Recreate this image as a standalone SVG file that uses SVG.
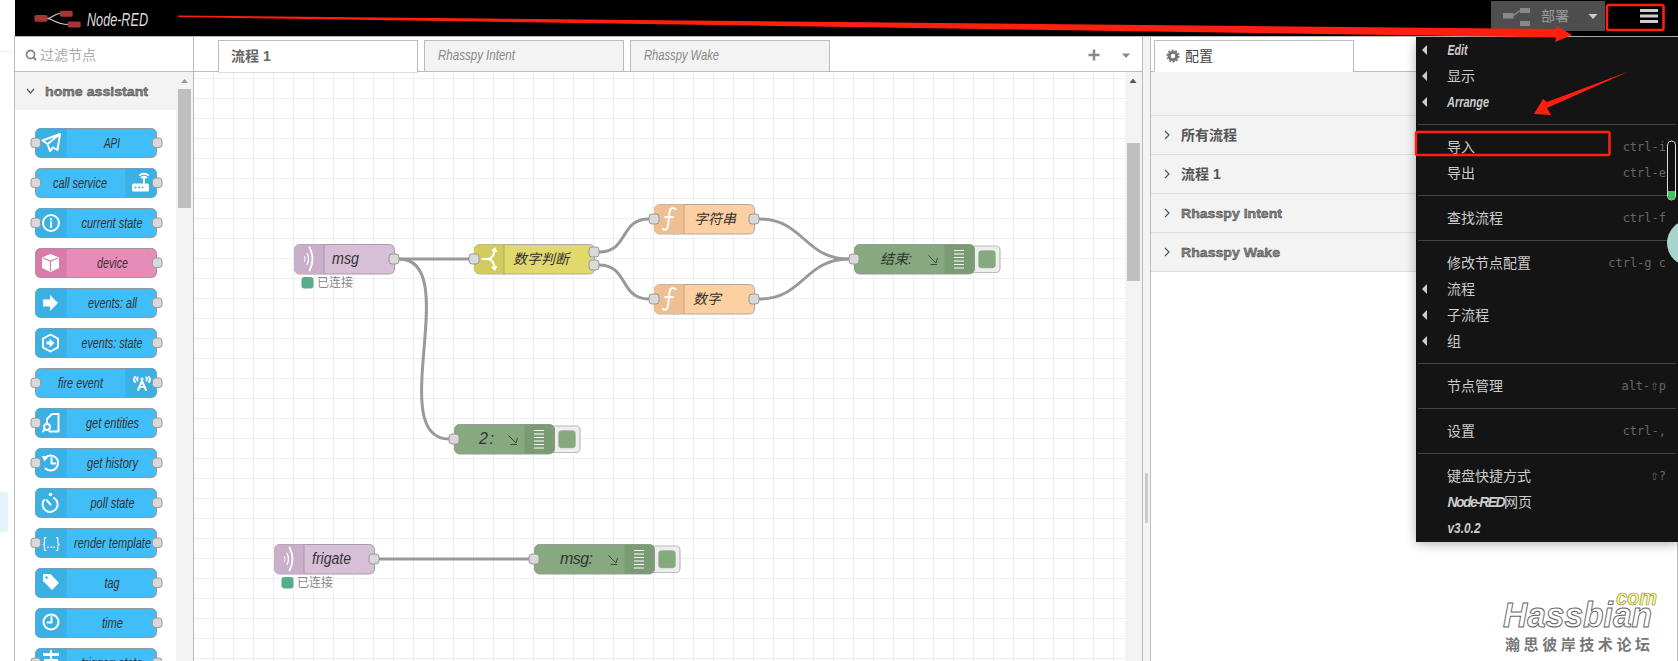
<svg xmlns="http://www.w3.org/2000/svg" width="1678" height="661" viewBox="0 0 1678 661">
<style>
text{font-family:"Liberation Sans","Noto Sans CJK SC",sans-serif}
.pn{font-size:15px;font-style:italic;fill:#333;text-anchor:middle}
.wn{font-size:16px;font-style:italic;fill:#333}
.wc{font-size:14px;font-style:italic;fill:#333}
.st{font-size:12px;fill:#888}
.blue{fill:#41bdf7;stroke:#999;stroke-width:1}
.bi{fill:#3ab0e5}
.port{fill:#d9d9d9;stroke:#999;stroke-width:1}
.ic{fill:none;stroke:#fff;stroke-width:2;stroke-linecap:round;stroke-linejoin:round}
.icf{fill:#fff}
.wire{fill:none;stroke:#999;stroke-width:3}
.grid{stroke:#eee;stroke-width:1}
.sep{stroke:#444;stroke-width:1}
.mi{font-size:14px;fill:#ccc}
.me{font-size:15px;font-style:italic;font-weight:bold;fill:#ccc}
.ms{font-family:"DejaVu Sans Mono","Liberation Mono",monospace;font-size:12px;fill:#666;text-anchor:end}
.mt{fill:#ccc}
.red{fill:none;stroke:#ff1f10;stroke-width:2.5}
.tabt{font-size:15px;font-style:italic;fill:#888}
.pt{font-size:14px;font-weight:bold;fill:#555}
.pe{font-size:13px;font-weight:bold;fill:#888;stroke:#333;stroke-width:.4}
.chev{fill:none;stroke:#555;stroke-width:1.2}
.dbar{stroke:#fff;stroke-width:1.2}
.flt{fill:none;stroke:#444;stroke-width:1}
.btn{fill:#eee;stroke:#bbb;stroke-width:1.2}
.btni{fill:#87a980;stroke:#9fb89a;stroke-width:.5}
.dbg{fill:#87a980;stroke:#999}
.dbi{fill:#7a9b73}
.inj{fill:#d8bfd8;stroke:#a99aa9;stroke-width:1}
.inji{fill:#c9afc9}
.fn{fill:#fdd0a2;stroke:#a9a9a9;stroke-width:1}
.fni{fill:#eebf92}
</style>
<defs>
<path id="pil" d="M66.500 .5H40.500a5 5 0 0 0-5 5v19a5 5 0 0 0 5 5H66.500z"/>
<path id="pir" d="M125.500 .5H151.500a5 5 0 0 1 5 5v19a5 5 0 0 1-5 5H125.500z"/>
<rect id="ppl" x="31" y="10" width="9.500" height="9.500" rx="3" class="port"/>
<rect id="ppr" x="152.500" y="10" width="9.500" height="9.500" rx="3" class="port"/>
<rect id="wp" x="-5" y="-5" width="10" height="10" rx="3" class="port"/>
<path id="wic" d="M30 .5H5a5 5 0 0 0-5 5v19a5 5 0 0 0 5 5H30z"/>
<g id="wave" class="ic"><path stroke-width="1" d="M10.500 12.500q1.500 2.500 0 5"/><path stroke-width="1.300" d="M13 9.500q3 5.500 0 11"/><path stroke-width="1.800" d="M15.500 3.500q6 11.500 0 23"/></g>
<path id="fsym" class="ic" d="M21.500 5c-3.500-2-5.500-.5-6 3l-1.500 14c-.5 3.500-3 4.500-5 3M11 13h8"/>
<g id="flt" class="flt"><path d="M0 .5L7.500 8M2 9.500H8.500M9 3L7.500 8"/></g>
<g id="bars" class="dbar"><path d="M10 6.500h10M10 10h10M10 13.500h10M10 17h10M10 20.500h10M10 24h10"/></g>
<path id="marr" d="M0 0L5-5V5z" class="mt"/>
<filter id="sh" x="-10%" y="-10%" width="120%" height="120%"><feGaussianBlur stdDeviation="6"/></filter>
</defs>

<rect width="1678" height="661" fill="#fff"/>
<path d="M0 51.500H14" stroke="#eee"/>
<rect x="-6" y="492" width="14" height="40" rx="3" fill="#e3f4fd"/>

<g id="workspace">
<rect x="194" y="72" width="949" height="589" fill="#fff"/>
<path class="grid" d="M213.500 72V661M233.500 72V661M253.500 72V661M273.500 72V661M293.500 72V661M313.500 72V661M333.500 72V661M353.500 72V661M373.500 72V661M393.500 72V661M413.500 72V661M433.500 72V661M453.500 72V661M473.500 72V661M493.500 72V661M513.500 72V661M533.500 72V661M553.500 72V661M573.500 72V661M593.500 72V661M613.500 72V661M633.500 72V661M653.500 72V661M673.500 72V661M693.500 72V661M713.500 72V661M733.500 72V661M753.500 72V661M773.500 72V661M793.500 72V661M813.500 72V661M833.500 72V661M853.500 72V661M873.500 72V661M893.500 72V661M913.500 72V661M933.500 72V661M953.500 72V661M973.500 72V661M993.500 72V661M1013.500 72V661M1033.500 72V661M1053.500 72V661M1073.500 72V661M1093.500 72V661M1113.500 72V661"/>
<path class="grid" d="M194 78.500H1125M194 98.500H1125M194 118.500H1125M194 138.500H1125M194 158.500H1125M194 178.500H1125M194 198.500H1125M194 218.500H1125M194 238.500H1125M194 258.500H1125M194 278.500H1125M194 298.500H1125M194 318.500H1125M194 338.500H1125M194 358.500H1125M194 378.500H1125M194 398.500H1125M194 418.500H1125M194 438.500H1125M194 458.500H1125M194 478.500H1125M194 498.500H1125M194 518.500H1125M194 538.500H1125M194 558.500H1125M194 578.500H1125M194 598.500H1125M194 618.500H1125M194 638.500H1125M194 658.500H1125"/>
<rect x="1125" y="72" width="18" height="589" fill="#f3f3f3"/>
<rect x="1127" y="143" width="13" height="138" fill="#bfbfbf"/>
<path d="M1133 78.500l3.500 4.500h-7z" fill="#555"/>
</g>

<g id="palette">
<rect x="15" y="37" width="178" height="34" fill="#fff"/>
<rect x="15" y="72" width="161" height="38" fill="#f3f3f3"/>
<rect x="176" y="72" width="17" height="589" fill="#f3f3f3"/>
<rect x="178" y="89" width="13" height="119" fill="#bfbfbf"/>
<path d="M184.500 79l3.500 4h-7z" fill="#999"/>
<path d="M14.500 36V661M193.500 36V661" stroke="#bbb" stroke-width="1" fill="none"/>
<path d="M15 71.500H1142" stroke="#bbb"/>
<circle cx="30.500" cy="54.500" r="4" fill="none" stroke="#888" stroke-width="1.800"/><path d="M33.500 57.500L36 60" stroke="#888" stroke-width="2"/>
<text x="40" y="60" font-size="14" fill="#aaa">过滤节点</text>
<path d="M27 89l3.500 4 3.500-4" class="chev"/>
<text x="45" y="96" class="pe" textLength="103" lengthAdjust="spacingAndGlyphs">home assistant</text>
</g>

<g id="p-api" transform="translate(0,128)"><rect class="blue" x="35.500" y=".5" width="121" height="29" rx="5"/><use href="#pil" class="bi"/><path class="ic" d="M60 6L42.500 12.500L47.500 16L50 23L53 19.500L57.500 22zM47.500 16L60 6"/><use href="#ppl"/><use href="#ppr"/><text class="pn" x="112" y="19.500" textLength="16" lengthAdjust="spacingAndGlyphs">API</text></g>
<g id="p-call-service" transform="translate(0,168)"><rect class="blue" x="35.500" y=".5" width="121" height="29" rx="5"/><use href="#pir" class="bi"/><rect class="icf" x="132" y="15.500" width="17" height="8" rx="1.500"/><circle cx="135.500" cy="19.500" r="1" fill="#3ab0e5"/><circle cx="139" cy="19.500" r="1" fill="#3ab0e5"/><circle cx="142.500" cy="19.500" r="1" fill="#3ab0e5"/><path class="ic" stroke-width="1.200" d="M144 15V10.500M141.500 9.500q2.500-1.500 5 0M140 7q4-2.500 8 0"/><use href="#ppl"/><use href="#ppr"/><text class="pn" x="80" y="19.500" textLength="54" lengthAdjust="spacingAndGlyphs">call service</text></g>
<g id="p-current-state" transform="translate(0,208)"><rect class="blue" x="35.500" y=".5" width="121" height="29" rx="5"/><use href="#pil" class="bi"/><circle class="ic" cx="51" cy="15" r="8"/><path class="ic" stroke-width="1.600" d="M51 14v5M51 11v.5"/><use href="#ppl"/><use href="#ppr"/><text class="pn" x="112" y="19.500" textLength="61" lengthAdjust="spacingAndGlyphs">current state</text></g>
<g id="p-device" transform="translate(0,248)"><rect x="35.500" y=".5" width="121" height="29" rx="5" fill="#e78bb8" stroke="#999"/><use href="#pil" fill="#d87bab"/><path class="icf" d="M50.500 6l8.500 3.500v10.500l-8.500 4-8.500-4v-10.500z"/><path d="M43 10l7.500 3 7.500-3M50.500 13v10" stroke="#d87bab" stroke-width="1.200" fill="none"/><use href="#ppr"/><text class="pn" x="112.500" y="19.500" textLength="31" lengthAdjust="spacingAndGlyphs">device</text></g>
<g id="p-events-all" transform="translate(0,288)"><rect class="blue" x="35.500" y=".5" width="121" height="29" rx="5"/><use href="#pil" class="bi"/><path class="icf" d="M43 11.500h7v-4.500l8 8-8 8v-4.500h-7z"/><use href="#ppr"/><text class="pn" x="112.500" y="19.500" textLength="49" lengthAdjust="spacingAndGlyphs">events: all</text></g>
<g id="p-events-state" transform="translate(0,328)"><rect class="blue" x="35.500" y=".5" width="121" height="29" rx="5"/><use href="#pil" class="bi"/><path class="ic" d="M50.500 6.500l7.500 4.200v8.600l-7.500 4.200-7.500-4.200v-8.600z"/><path class="icf" d="M46.500 13.500h3v-3l5 4.500-5 4.500v-3h-3z"/><use href="#ppr"/><text class="pn" x="112" y="19.500" textLength="61" lengthAdjust="spacingAndGlyphs">events: state</text></g>
<g id="p-fire-event" transform="translate(0,368)"><rect class="blue" x="35.500" y=".5" width="121" height="29" rx="5"/><use href="#pir" class="bi"/><path class="ic" stroke-width="1.200" d="M135 9q-2 2.500 0 5M149 9q2 2.500 0 5M137.500 9.500q-1 2 0 3M146.500 9.500q1 2 0 3M138 22l4-9 4 9M139.500 19h5"/><circle class="icf" cx="142" cy="11" r="1.500"/><use href="#ppl"/><use href="#ppr"/><text class="pn" x="80.500" y="19.500" textLength="45" lengthAdjust="spacingAndGlyphs">fire event</text></g>
<g id="p-get-entities" transform="translate(0,408)"><rect class="blue" x="35.500" y=".5" width="121" height="29" rx="5"/><use href="#pil" class="bi"/><path class="ic" stroke-width="1.600" d="M47 11l5-5h6.500v17.500h-9M47 11v4"/><circle class="ic" stroke-width="1.500" cx="47" cy="19" r="3"/><path class="ic" stroke-width="1.500" d="M45 21l-2 2.500"/><use href="#ppl"/><use href="#ppr"/><text class="pn" x="112.500" y="19.500" textLength="53" lengthAdjust="spacingAndGlyphs">get entities</text></g>
<g id="p-get-history" transform="translate(0,448)"><rect class="blue" x="35.500" y=".5" width="121" height="29" rx="5"/><use href="#pil" class="bi"/><path class="ic" d="M45.500 9.500a7.500 7.500 0 1 1 0 11"/><path class="icf" d="M42 8l6.500 .5-4 5z"/><path class="ic" stroke-width="1.600" d="M51.500 10v5.500h4"/><use href="#ppl"/><use href="#ppr"/><text class="pn" x="112.500" y="19.500" textLength="51" lengthAdjust="spacingAndGlyphs">get history</text></g>
<g id="p-poll-state" transform="translate(0,488)"><rect class="blue" x="35.500" y=".5" width="121" height="29" rx="5"/><use href="#pil" class="bi"/><path class="ic" d="M44 12a7.500 7.500 0 1 0 10-2"/><path class="ic" d="M46.500 12l4 4.500"/><circle class="icf" cx="50.500" cy="6.500" r="1.800"/><use href="#ppr"/><text class="pn" x="112.500" y="19.500" textLength="44" lengthAdjust="spacingAndGlyphs">poll state</text></g>
<g id="p-render-template" transform="translate(0,528)"><rect class="blue" x="35.500" y=".5" width="121" height="29" rx="5"/><use href="#pil" class="bi"/><text x="51" y="19.500" font-size="15" fill="#fff" text-anchor="middle" textLength="17" lengthAdjust="spacingAndGlyphs">{...}</text><use href="#ppl"/><use href="#ppr"/><text class="pn" x="112.500" y="19.500" textLength="77" lengthAdjust="spacingAndGlyphs">render template</text></g>
<g id="p-tag" transform="translate(0,568)"><rect class="blue" x="35.500" y=".5" width="121" height="29" rx="5"/><use href="#pil" class="bi"/><path class="icf" d="M43 6h7.500l8.500 9-7 7-9-9z"/><circle cx="46.500" cy="9.500" r="1.200" fill="#3ab0e5"/><use href="#ppr"/><text class="pn" x="112" y="19.500" textLength="15" lengthAdjust="spacingAndGlyphs">tag</text></g>
<g id="p-time" transform="translate(0,608)"><rect class="blue" x="35.500" y=".5" width="121" height="29" rx="5"/><use href="#pil" class="bi"/><circle class="ic" cx="51" cy="14" r="7.500"/><path class="ic" stroke-width="1.600" d="M51.500 9v5.500h-4"/><use href="#ppr"/><text class="pn" x="112.500" y="19.500" textLength="21" lengthAdjust="spacingAndGlyphs">time</text></g>
<g id="p-trigger-state" transform="translate(0,648)"><rect class="blue" x="35.500" y=".5" width="121" height="29" rx="5"/><use href="#pil" class="bi"/><path class="icf" d="M43 5h16v3H43zM50 2h2v14h-2z"/><path class="icf" d="M44 11h14v2H44z"/><use href="#ppl"/><use href="#ppr"/><text class="pn" x="112" y="19.500" textLength="61" lengthAdjust="spacingAndGlyphs">trigger: state</text></g>

<g id="tabs">
<rect x="218.500" y="40.500" width="199" height="31.500" fill="#fff" stroke="#bbb"/><path d="M219 71.500H417" stroke="#fff"/>
<text x="231" y="61" class="pt" style="fill:#666">流程 1</text>
<rect x="424.500" y="40.500" width="199" height="31" fill="#f3f3f3" stroke="#bbb"/>
<text x="438" y="60" class="tabt" textLength="77" lengthAdjust="spacingAndGlyphs">Rhasspy Intent</text>
<rect x="630.500" y="40.500" width="199" height="31" fill="#f3f3f3" stroke="#bbb"/>
<text x="644" y="60" class="tabt" textLength="75" lengthAdjust="spacingAndGlyphs">Rhasspy Wake</text>
<path d="M1094 49.500v11M1088.500 55h11" stroke="#888" stroke-width="2.500"/>
<path d="M1122 53.500h8l-4 4.500z" fill="#888"/>
</g>

<g id="config-panel">
<rect x="1143" y="37" width="8" height="624" fill="#f3f3f3"/>
<rect x="1145" y="473" width="3" height="50" fill="#ccc"/>
<path d="M1142.500 37V661M1150.500 37V661" stroke="#bbb"/>
<rect x="1151" y="72" width="265" height="199" fill="#f3f3f3"/>
<path d="M1150 71.500H1154M1353 71.500H1416" stroke="#bbb"/>
<path d="M1154.500 71.500V40.500H1353.500V71.500" fill="#fff" stroke="#bbb"/>
<circle cx="1173" cy="56" r="3.800" fill="none" stroke="#777" stroke-width="3"/><circle cx="1173" cy="56" r="5.800" fill="none" stroke="#777" stroke-width="1.500" stroke-dasharray="2 1.600"/>
<text x="1185" y="61" font-size="14" fill="#444">配置</text>
<path d="M1151 115.500H1416M1151 154.500H1416M1151 193.500H1416M1151 232.500H1416M1151 271.500H1416" stroke="#ddd"/>
<path class="chev" d="M1165 131l4 4-4 4M1165 170l4 4-4 4M1165 209l4 4-4 4M1165 248l4 4-4 4"/>
<text x="1181" y="140" class="pt">所有流程</text>
<text x="1181" y="179" class="pt">流程 1</text>
<text x="1181" y="218" class="pe" textLength="101" lengthAdjust="spacingAndGlyphs">Rhasspy Intent</text>
<text x="1181" y="257" class="pe" textLength="99" lengthAdjust="spacingAndGlyphs">Rhasspy Wake</text>
<path d="M1677.500 500V661" stroke="#bbb"/>
</g>

<g id="connectors">
<path class="wire" d="M399 259H469"/>
<path class="wire" d="M399 259C464 259 384 439 449 439"/>
<path class="wire" d="M599 252C629 252 619 219 649 219"/>
<path class="wire" d="M599 265C629 265 619 299 649 299"/>
<path class="wire" d="M759 219C804 219 804 259 849 259"/>
<path class="wire" d="M759 299C804 299 804 259 849 259"/>
<path class="wire" d="M379 559H529"/>
</g>

<g id="n-msg" transform="translate(294,244)"><rect class="inj" x=".5" y=".5" width="100" height="29.500" rx="5"/><use href="#wic" class="inji"/><path d="M30 .5V30" stroke="#a99aa9"/><use href="#wave"/><text class="wn" x="38" y="20" textLength="27" lengthAdjust="spacingAndGlyphs">msg</text><use href="#wp" x="100" y="15"/></g>
<g id="s-msg"><rect x="301.500" y="277" width="12" height="11.500" rx="3" fill="#55ad8a"/><text class="st" x="317" y="287">已连接</text></g>
<g id="n-switch" transform="translate(474,244)"><rect x=".5" y=".5" width="120" height="29.500" rx="5" fill="#e2d96e" stroke="#aaa"/><use href="#wic" fill="#d4cb5f"/><path d="M30 .5V30" stroke="#b5ad55"/><path class="ic" d="M8.500 15h5q4 0 6-4.500l1-3.500M13.500 15q4 0 6 4.500l1 3.500"/><path class="icf" d="M17 7l4-4 2.500 5zM17 23l4 4 2.500-5z"/><text class="wc" x="39" y="20">数字判断</text><use href="#wp" x="0" y="15"/><use href="#wp" x="120" y="8"/><use href="#wp" x="120" y="21"/></g>
<g id="n-fn-string" transform="translate(654,204)"><rect class="fn" x=".5" y=".5" width="100" height="29.500" rx="5"/><use href="#wic" class="fni"/><path d="M30 .5V30" stroke="#c9a07a"/><use href="#fsym"/><text class="wc" x="40" y="20">字符串</text><use href="#wp" x="0" y="15"/><use href="#wp" x="100" y="15"/></g>
<g id="n-fn-number" transform="translate(654,284)"><rect class="fn" x=".5" y=".5" width="100" height="29.500" rx="5"/><use href="#wic" class="fni"/><path d="M30 .5V30" stroke="#c9a07a"/><use href="#fsym"/><text class="wc" x="39" y="20">数字</text><use href="#wp" x="0" y="15"/><use href="#wp" x="100" y="15"/></g>
<g id="n-debug-end" transform="translate(854,244)"><rect class="btn" x="115" y="2" width="31" height="26.500" rx="4"/><rect class="btni" x="124.500" y="6.500" width="17" height="17.500" rx="3"/><rect class="dbg" x=".5" y=".5" width="120" height="29.500" rx="5"/><path class="dbi" d="M90.500 .5H115.500a5 5 0 0 1 5 5v19a5 5 0 0 1-5 5H90.500z"/><g transform="translate(90,0)"><use href="#bars"/></g><text class="wc" x="26" y="20">结束:</text><use href="#flt" x="74.500" y="11"/><use href="#wp" x="0" y="15"/></g>
<g id="n-debug-2" transform="translate(454,424)"><rect class="btn" x="95" y="2" width="31" height="26.500" rx="4"/><rect class="btni" x="104.500" y="6.500" width="17" height="17.500" rx="3"/><rect class="dbg" x=".5" y=".5" width="100" height="29.500" rx="5"/><path class="dbi" d="M70.500 .5H95.500a5 5 0 0 1 5 5v19a5 5 0 0 1-5 5H70.500z"/><g transform="translate(70,0)"><use href="#bars"/></g><text class="wn" x="25" y="20" textLength="15">2:</text><use href="#flt" x="54.500" y="11"/><use href="#wp" x="0" y="15"/></g>
<g id="n-frigate" transform="translate(274,544)"><rect class="inj" x=".5" y=".5" width="100" height="29.500" rx="5"/><use href="#wic" class="inji"/><path d="M30 .5V30" stroke="#a99aa9"/><use href="#wave"/><text class="wn" x="38" y="20" textLength="39" lengthAdjust="spacingAndGlyphs">frigate</text><use href="#wp" x="100" y="15"/></g>
<g id="s-frigate"><rect x="281.500" y="577" width="12" height="11.500" rx="3" fill="#55ad8a"/><text class="st" x="297" y="587">已连接</text></g>
<g id="n-debug-msg" transform="translate(534,544)"><rect class="btn" x="115" y="2" width="31" height="26.500" rx="4"/><rect class="btni" x="124.500" y="6.500" width="17" height="17.500" rx="3"/><rect class="dbg" x=".5" y=".5" width="120" height="29.500" rx="5"/><path class="dbi" d="M90.500 .5H115.500a5 5 0 0 1 5 5v19a5 5 0 0 1-5 5H90.500z"/><g transform="translate(90,0)"><use href="#bars"/></g><text class="wn" x="26" y="20" textLength="33">msg:</text><use href="#flt" x="74.500" y="11"/><use href="#wp" x="0" y="15"/></g>

<g id="header">
<rect x="15" y="0" width="1663" height="36" fill="#000"/>
<path d="M15 36.500H1678" stroke="#bbb"/>
<path d="M47 18.500C52 18.500 54 13.500 60 13.500M47 18.500C53 18.500 56 24.500 68 24.500" fill="none" stroke="#ccc" stroke-width="1.200"/>
<rect x="34.500" y="15" width="13" height="6.800" rx="1.500" fill="#a33636"/><rect x="60" y="10.700" width="12.700" height="6" rx="1.500" fill="#a33636"/><rect x="67.700" y="21.500" width="13" height="6" rx="1.500" fill="#a33636"/>
<text x="87" y="25.500" font-size="19" font-style="italic" fill="#ddd" textLength="61" lengthAdjust="spacingAndGlyphs">Node-RED</text>
<rect x="1491" y="1" width="114" height="30" fill="#4e4e4e"/>
<path d="M1513 16L1520 10.500" stroke="#888" stroke-width="1.500"/>
<rect x="1503" y="13" width="10.500" height="5.500" fill="#888"/><rect x="1520" y="8" width="10" height="5" fill="#888"/><rect x="1520" y="21" width="10" height="5" fill="#888"/>
<text x="1541" y="21" font-size="14" fill="#9a9a9a">部署</text>
<path d="M1588.500 14h9l-4.500 5z" fill="#ccc"/>
<path d="M1640 10.500h18M1640 16h18M1640 21.500h18" stroke="#ccc" stroke-width="3"/>
</g>

<rect x="1416" y="40" width="262" height="504" fill="#000" opacity=".3" filter="url(#sh)"/>
<g id="menu">
<rect x="1416" y="37" width="262" height="505" fill="#141414"/>
<path class="sep" d="M1418 124.500H1676M1418 195.500H1676M1418 240.500H1676M1418 363.500H1676M1418 408.500H1676M1418 453.500H1676"/>
<use href="#marr" x="1422" y="50"/><use href="#marr" x="1422" y="76"/><use href="#marr" x="1422" y="102"/><use href="#marr" x="1422" y="289"/><use href="#marr" x="1422" y="315"/><use href="#marr" x="1422" y="341"/>
<text class="me" x="1447.500" y="55" textLength="20" lengthAdjust="spacingAndGlyphs">Edit</text>
<text class="mi" x="1447" y="81">显示</text>
<text class="me" x="1447" y="107" textLength="42" lengthAdjust="spacingAndGlyphs">Arrange</text>
<text class="mi" x="1447" y="152">导入</text><text class="ms" x="1666" y="151">ctrl-i</text>
<text class="mi" x="1447" y="178">导出</text><text class="ms" x="1666" y="177">ctrl-e</text>
<text class="mi" x="1447" y="223">查找流程</text><text class="ms" x="1666" y="222">ctrl-f</text>
<text class="mi" x="1447" y="268">修改节点配置</text><text class="ms" x="1666" y="267">ctrl-g c</text>
<text class="mi" x="1447" y="294">流程</text>
<text class="mi" x="1447" y="320">子流程</text>
<text class="mi" x="1447" y="346">组</text>
<text class="mi" x="1447" y="391">节点管理</text><text class="ms" x="1666" y="390">alt-<tspan font-size="14">⇧</tspan>p</text>
<text class="mi" x="1447" y="436">设置</text><text class="ms" x="1666" y="435">ctrl-,</text>
<text class="mi" x="1447" y="481">键盘快捷方式</text><text class="ms" x="1666" y="480"><tspan font-size="14">⇧</tspan>?</text>
<text x="1447.500" y="507" font-size="14" font-style="italic" font-weight="bold" fill="#ccc"><tspan letter-spacing="-1.600">Node-RED</tspan><tspan font-style="normal" font-weight="normal">网页</tspan></text>
<text class="me" x="1447.500" y="533" textLength="33" lengthAdjust="spacingAndGlyphs">v3.0.2</text>
</g>

<g id="overlay">
<rect x="1667.500" y="141" width="8" height="59" rx="4" fill="#111" stroke="#ddd"/>
<path d="M1668 191h7v5a3.500 3.500 0 0 1-7 0z" fill="#3cc860"/>
<circle cx="1690" cy="243" r="23" fill="#a8d4d0"/>
<path d="M178 15.500L1556 29L1556.500 26L1572 35L1555 42L1556 37.500L178 17z" fill="#ff1f10"/>
<path d="M1630 71L1547 102L1543 99L1534 114L1551 115L1547 108z" fill="#ff1f10"/>
<rect class="red" x="1607" y="5" width="56.500" height="25" rx="1.500"/>
<rect class="red" x="1416" y="132" width="193.500" height="23" rx="1.500"/>
</g>

<g id="watermark">
<text x="1503" y="627" font-size="35" font-style="italic" font-weight="bold" fill="#fff" stroke="#666" stroke-width="1" textLength="149" lengthAdjust="spacingAndGlyphs">Hassbian</text>
<text x="1616" y="605" font-size="22" font-style="italic" font-weight="bold" fill="#ffff66" stroke="#888" stroke-width=".7" textLength="41" lengthAdjust="spacingAndGlyphs">com</text>
<text x="1505" y="650" font-size="15" font-weight="bold" fill="#777" textLength="145" lengthAdjust="spacing">瀚思彼岸技术论坛</text>
</g>
</svg>
